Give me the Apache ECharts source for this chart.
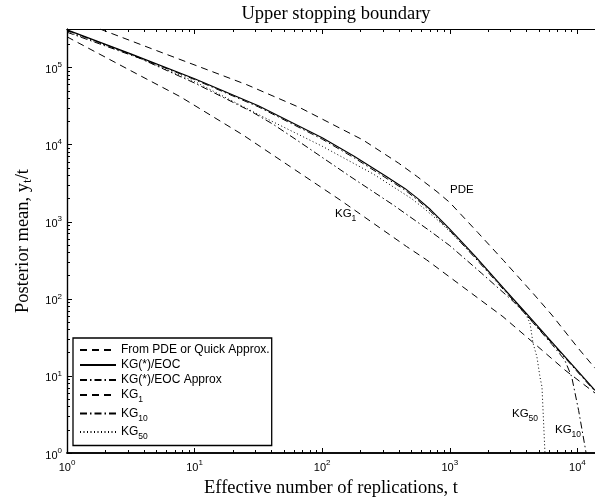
<!DOCTYPE html>
<html>
<head>
<meta charset="utf-8">
<script src="https://cdn.jsdelivr.net/npm/echarts@6/dist/echarts.min.js"></script>
<style>
  html, body { margin: 0; padding: 0; background: #fff; }
  #chart { width: 595px; height: 497px; }
</style>
</head>
<body>
<div id="chart"></div>
<script>
// ticks (log axes)
const xMajor = [1, 10, 100, 1000, 10000];
const xMinor = [2, 3, 4, 5, 6, 7, 8, 9, 20, 30, 40, 50, 60, 70, 80, 90,
  200, 300, 400, 500, 600, 700, 800, 900, 2000, 3000, 4000, 5000, 6000, 7000, 8000, 9000];
const yMajor = [1, 10, 100, 1000, 10000, 100000];
const yMinor = [2, 3, 4, 5, 6, 7, 8, 9, 20, 30, 40, 50, 60, 70, 80, 90,
  200, 300, 400, 500, 600, 700, 800, 900, 2000, 3000, 4000, 5000, 6000, 7000, 8000, 9000,
  20000, 30000, 40000, 50000, 60000, 70000, 80000, 90000, 200000, 300000];

// From PDE (upper dashed)
const pdeT = [1.82, 5.05, 11.0, 25.6, 67, 209, 398, 562, 794, 1000, 1660, 2630, 4470, 6310, 10100, 13740];
const pdeY = [316000, 166000, 102000, 60100, 30200, 11500, 5750, 3800, 2455, 1778, 724, 316, 119, 61.7, 23.1, 12.6];

// KG(*)/EOC (solid) and its approximation (dash-dot)
const kgStarT = [1, 3.16, 10, 31.6, 100, 178, 316, 447, 562, 708, 891, 1000, 1585, 2690, 3980, 6310, 10000, 13740];
const kgStarY = [309000, 151000, 71600, 32000, 12300, 7080, 3890, 2690, 1995, 1430, 977, 804, 355, 133, 64.6, 27.5, 11.7, 6.5];
const kgApproxY = [305000, 149000, 70000, 31000, 11800, 6750, 3700, 2570, 1900, 1360, 930, 768, 337, 127, 62, 26.6, 11.3, 6.3];

// KG_1 (lower dashed)
const kg1T = [1, 3.16, 7.69, 23.9, 56.2, 138, 457, 659, 1259, 2610, 4470, 8000, 13740];
const kg1Y = [251000, 91200, 42100, 13400, 5190, 1920, 479, 320, 144, 58.7, 27.4, 11.9, 6.0];

// KG_10 (dash-dot)
const kg10T = [1, 3.73, 10, 27.9, 41.7, 63.1, 165, 359, 700, 1000, 1780, 3130, 3980, 6310, 7940, 9020, 10230, 11480, 11700];
const kg10Y = [288000, 132000, 63100, 26900, 18200, 11500, 3890, 1660, 759, 490, 214, 93.3, 61.7, 25.7, 16.2, 9.77, 3.55, 1.2, 1];

// KG_50 (dotted)
const kg50T = [1, 3.16, 10, 34.5, 100, 251, 501, 631, 794, 1000, 1585, 2820, 3880, 4250, 4490, 4820, 5090, 5280, 5370, 5570];
const kg50Y = [295000, 148000, 66100, 22900, 9550, 4170, 2000, 1480, 1070, 750, 347, 120, 66.1, 48.6, 26.7, 17.6, 9.68, 7.18, 3.84, 1];

const dash = [7, 5];
const dashDot = [7, 3, 1.5, 3];
const dot = [1, 2.5];

function pairs(ts, ys) {
  return ts.map((t, i) => [t, ys[i]]);
}

function mkSeries(name, ts, ys, type, width) {
  return {
    name: name,
    type: 'line',
    data: pairs(ts, ys),
    symbol: 'none',
    showSymbol: false,
    silent: true,
    itemStyle: { color: 'rgba(0,0,0,0)', borderWidth: 0 },
    lineStyle: { color: '#000', width: width || 1, type: type }
  };
}

const sans = 'Liberation Sans';
const serif = 'Liberation Serif';

const tickRich = {
  b: { fontFamily: sans, fontSize: 11, lineHeight: 18, color: '#000' },
  e: { fontFamily: sans, fontSize: 8, lineHeight: 8, verticalAlign: 'top', color: '#000' }
};
function powLabel(v) {
  return '{b|10}{e|' + Math.round(Math.log10(v)) + '}';
}

const subRich = {
  p: { fontFamily: sans, fontSize: 12, lineHeight: 15, color: '#000' },
  a: { fontFamily: sans, fontSize: 12, lineHeight: 19, color: '#000' },
  s: { fontFamily: sans, fontSize: 8.5, lineHeight: 9, verticalAlign: 'bottom', color: '#000' }
};
function subLabel(name) {
  const m = name.match(/^(.*)_(\d+)$/);
  if (m) return '{a|' + m[1] + '}{s|' + m[2] + '}';
  return '{p|' + name + '}';
}

const xMax = 13740, yMax = 317000;

function xAx(pos, ticks, len, labels) {
  return {
    type: 'log', gridIndex: 0, position: pos, min: 1, max: xMax,
    axisLine: { show: true, lineStyle: { color: '#000', width: pos === 'bottom' ? 1.5 : 1 } },
    axisTick: { show: true, inside: true, length: len, customValues: ticks, lineStyle: { color: '#000' } },
    axisLabel: labels ? {
      show: true, customValues: xMajor, margin: 6, formatter: powLabel, rich: tickRich
    } : { show: false },
    splitLine: { show: false }, minorTick: { show: false }
  };
}
function yAx(ticks, len, labels) {
  return {
    type: 'log', gridIndex: 0, position: 'left', min: 1, max: yMax,
    axisLine: { show: true, lineStyle: { color: '#000', width: 1.2 } },
    axisTick: { show: true, inside: true, length: len, customValues: ticks, lineStyle: { color: '#000' } },
    axisLabel: labels ? {
      show: true, customValues: yMajor, margin: 5, padding: [5, 0, 0, 0], formatter: powLabel, rich: tickRich
    } : { show: false },
    splitLine: { show: false }, minorTick: { show: false }
  };
}

const chart = echarts.init(document.getElementById('chart'), null, { renderer: 'canvas' });

const xMain = xAx('bottom', xMajor, 5, true);
xMain.name = 'Effective number of replications, t';
xMain.nameLocation = 'middle';
xMain.nameGap = 19;
xMain.nameTextStyle = { fontFamily: serif, fontSize: 18.5, color: '#000' };

const yMain = yAx(yMajor, 5, true);
yMain.name = '{m|Posterior mean, y}{s|t}{m|/t}';
yMain.nameLocation = 'middle';
yMain.nameGap = 24;
yMain.nameRotate = 90;
yMain.nameTextStyle = {
  rich: {
    m: { fontFamily: serif, fontSize: 18.5, lineHeight: 22, color: '#000' },
    s: { fontFamily: serif, fontSize: 13, lineHeight: 13, verticalAlign: 'bottom', color: '#000' }
  }
};

const annRich = {
  a: { fontFamily: sans, fontSize: 11.5, lineHeight: 18, fill: '#000', color: '#000' },
  s: { fontFamily: sans, fontSize: 8.5, lineHeight: 9, verticalAlign: 'bottom', fill: '#000', color: '#000' }
};

chart.setOption({
  animation: false,
  backgroundColor: '#fff',
  title: {
    text: 'Upper stopping boundary',
    left: 331, top: 0, textAlign: 'center',
    textStyle: { fontFamily: serif, fontSize: 18.5, fontWeight: 'normal', color: '#000' }
  },
  grid: { left: 67, top: 29, right: 0, bottom: 44, containLabel: false, outerBoundsMode: 'none' },
  xAxis: [
    xMain,
    xAx('bottom', xMinor, 3, false),
    xAx('top', xMajor, 5, false),
    xAx('top', xMinor, 3, false)
  ],
  yAxis: [
    yMain,
    yAx(yMinor, 3, false)
  ],
  legend: {
    orient: 'vertical', left: 73, top: 338,
    padding: [6, 2, 4, 6], itemGap: 3, itemWidth: 36, itemHeight: 10,
    backgroundColor: '#fff', borderColor: '#000', borderWidth: 1.3, borderRadius: 0,
    itemStyle: { opacity: 0 },
    formatter: subLabel,
    textStyle: { color: '#000', fontFamily: sans, fontSize: 12, rich: subRich },
    selectedMode: false
  },
  graphic: [
    { type: 'text', left: 450, top: 184, style: { text: 'PDE', font: '11.5px "Liberation Sans"', fill: '#000' } },
    { type: 'text', left: 335, top: 208, style: { text: '{a|KG}{s|1}', rich: annRich } },
    { type: 'text', left: 512, top: 408, style: { text: '{a|KG}{s|50}', rich: annRich } },
    { type: 'text', left: 555, top: 424, style: { text: '{a|KG}{s|10}', rich: annRich } }
  ],
  series: [
    mkSeries('From PDE or Quick Approx.', pdeT, pdeY, dash),
    mkSeries('KG(*)/EOC', kgStarT, kgStarY, 'solid', 1.2),
    mkSeries('KG(*)/EOC Approx', kgStarT, kgApproxY, dashDot),
    mkSeries('KG_1', kg1T, kg1Y, dash),
    mkSeries('KG_10', kg10T, kg10Y, dashDot),
    mkSeries('KG_50', kg50T, kg50Y, dot)
  ]
});
</script>
</body>
</html>
